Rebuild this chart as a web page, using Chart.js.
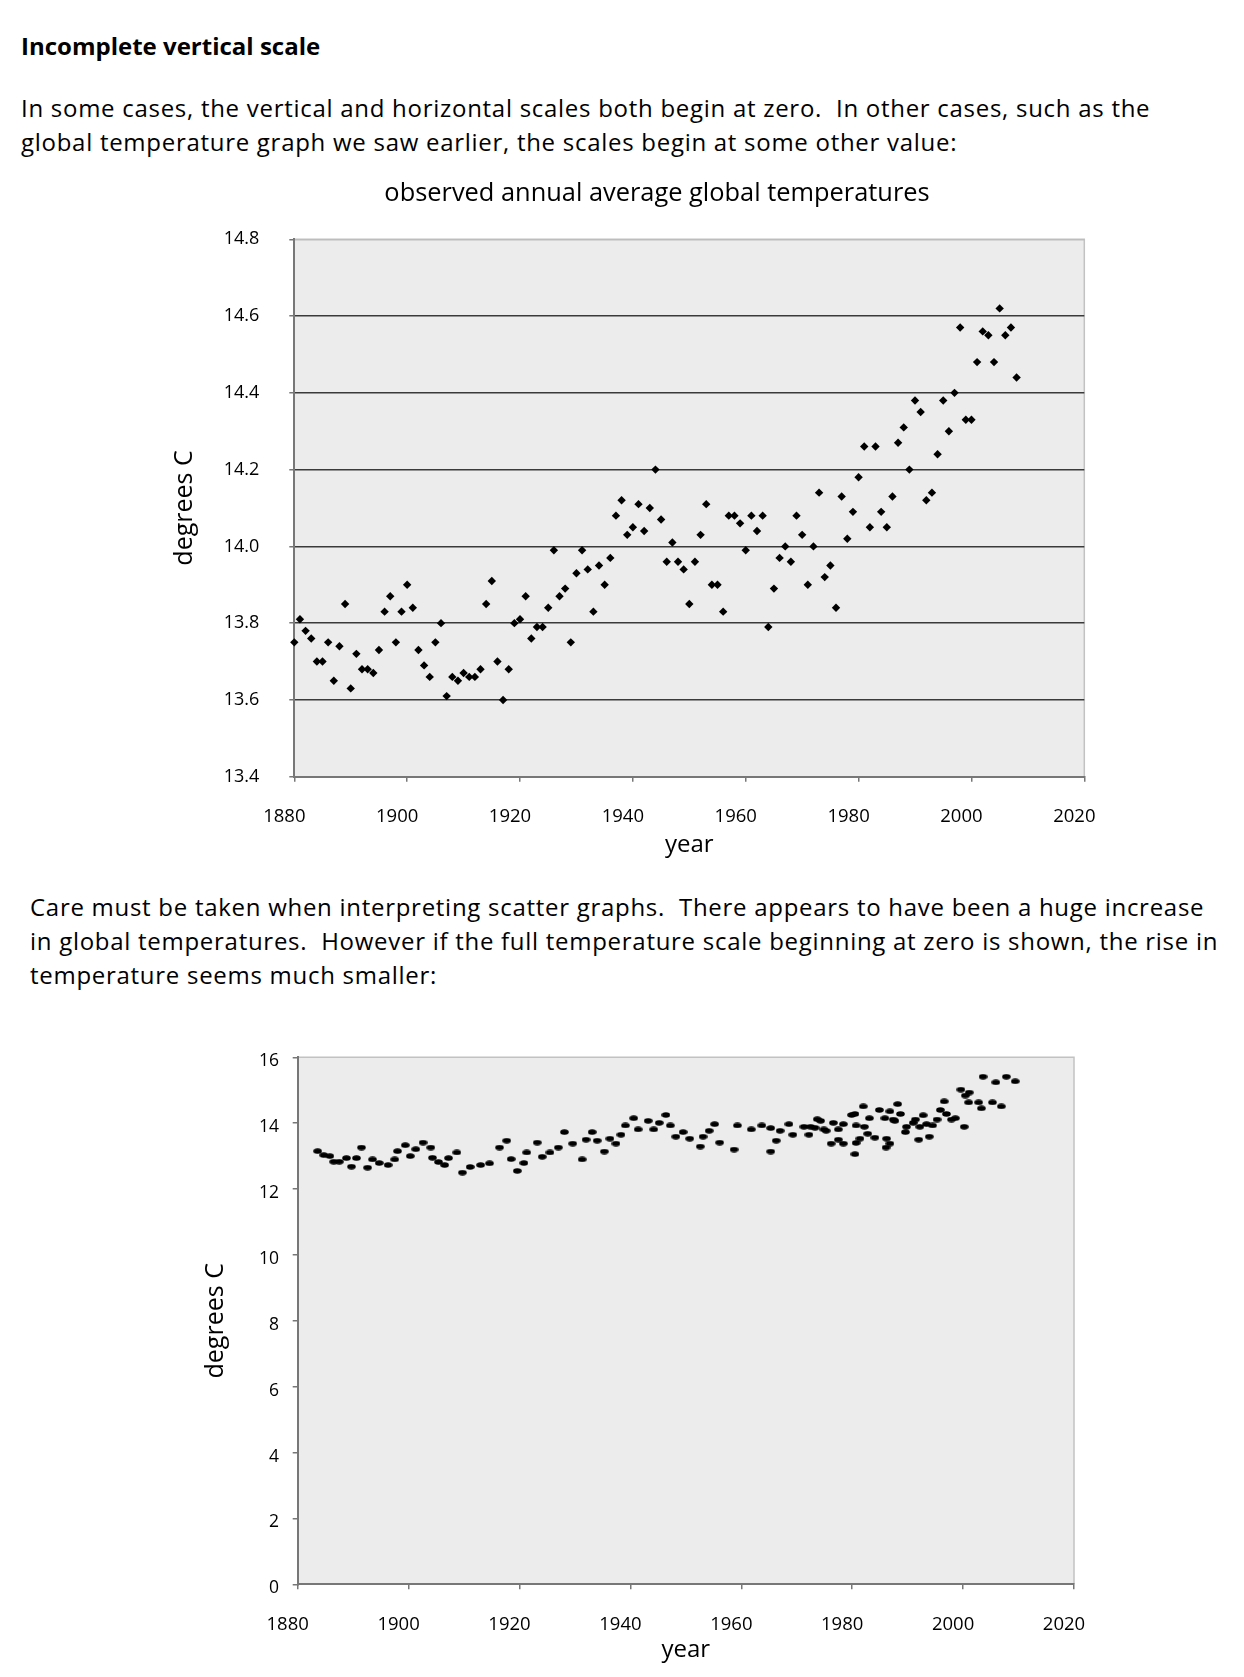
<!DOCTYPE html>
<html>
<head>
<meta charset="utf-8">
<script src="https://cdn.jsdelivr.net/npm/chart.js@4.4.0/dist/chart.umd.min.js"></script>
<style>
  body { margin: 0; width: 1244px; height: 1677px; background: #fff; position: relative; overflow: hidden;
         font-family: "Open Sans", sans-serif; color: #000; }
  .txt { position: absolute; white-space: pre; font-size: 24px; line-height: 33.5px; letter-spacing: 0.72px; margin: 0; }
  canvas { position: absolute; left: 0; }
</style>
</head>
<body>
<div class="txt" style="left:21px;top:29px;font-weight:bold;letter-spacing:0;">Incomplete vertical scale</div>
<div class="txt" style="left:21px;top:91px;">In some cases, the vertical and horizontal scales both begin at zero.  In other cases, such as the
global temperature graph we saw earlier, the scales begin at some other value:</div>

<canvas id="topChart" width="1244" height="710" style="top:150px"></canvas>

<div class="txt" style="left:30px;top:890px;line-height:34px;">Care must be taken when interpreting scatter graphs.  There appears to have been a huge increase
in global temperatures.  However if the full temperature scale beginning at zero is shown, the rise in
temperature seems much smaller:</div>

<canvas id="bottomChart" width="1244" height="665" style="top:1000px"></canvas>

<script>
// observed annual averages, upper graph
const topYears = [
  1880, 1881, 1882, 1883, 1884, 1885, 1886, 1887, 1888, 1889,
  1890, 1891, 1892, 1893, 1894, 1895, 1896, 1897, 1898, 1899,
  1900, 1901, 1902, 1903, 1904, 1905, 1906, 1907, 1908, 1909,
  1910, 1911, 1912, 1913, 1914, 1915, 1916, 1917, 1918, 1919,
  1920, 1921, 1922, 1923, 1924, 1925, 1926, 1927, 1928, 1929,
  1930, 1931, 1932, 1933, 1934, 1935, 1936, 1937, 1938, 1939,
  1940, 1941, 1942, 1943, 1944, 1945, 1946, 1947, 1948, 1949,
  1950, 1951, 1952, 1953, 1954, 1955, 1956, 1957, 1958, 1959,
  1960, 1961, 1962, 1963, 1964, 1965, 1966, 1967, 1968, 1969,
  1970, 1971, 1972, 1973, 1974, 1975, 1976, 1977, 1978, 1979,
  1980, 1981, 1982, 1983, 1984, 1985, 1986, 1987, 1988, 1989,
  1990, 1991, 1992, 1993, 1994, 1995, 1996, 1997, 1998, 1999,
  2000, 2001, 2002, 2003, 2004, 2005, 2006, 2007, 2008
];
const topTemps = [
  13.75, 13.81, 13.78, 13.76, 13.70, 13.70, 13.75, 13.65, 13.74, 13.85,
  13.63, 13.72, 13.68, 13.68, 13.67, 13.73, 13.83, 13.87, 13.75, 13.83,
  13.90, 13.84, 13.73, 13.69, 13.66, 13.75, 13.80, 13.61, 13.66, 13.65,
  13.67, 13.66, 13.66, 13.68, 13.85, 13.91, 13.70, 13.60, 13.68, 13.80,
  13.81, 13.87, 13.76, 13.79, 13.79, 13.84, 13.99, 13.87, 13.89, 13.75,
  13.93, 13.99, 13.94, 13.83, 13.95, 13.90, 13.97, 14.08, 14.12, 14.03,
  14.05, 14.11, 14.04, 14.10, 14.20, 14.07, 13.96, 14.01, 13.96, 13.94,
  13.85, 13.96, 14.03, 14.11, 13.90, 13.90, 13.83, 14.08, 14.08, 14.06,
  13.99, 14.08, 14.04, 14.08, 13.79, 13.89, 13.97, 14.00, 13.96, 14.08,
  14.03, 13.90, 14.00, 14.14, 13.92, 13.95, 13.84, 14.13, 14.02, 14.09,
  14.18, 14.26, 14.05, 14.26, 14.09, 14.05, 14.13, 14.27, 14.31, 14.20,
  14.38, 14.35, 14.12, 14.14, 14.24, 14.38, 14.30, 14.40, 14.57, 14.33,
  14.33, 14.48, 14.56, 14.55, 14.48, 14.62, 14.55, 14.57, 14.44
];

// lower graph, points as plotted on the full scale
const bottomYears = [
  1883.6, 1884.7, 1885.8, 1886.5, 1887.5, 1888.8, 1889.7, 1890.6, 1891.5, 1892.6,
  1893.5, 1894.7, 1896.3, 1897.5, 1898.0, 1899.4, 1900.3, 1901.3, 1902.6, 1904.0,
  1904.3, 1905.4, 1906.5, 1907.2, 1908.7, 1909.7, 1911.1, 1913.0, 1914.6, 1916.4,
  1917.7, 1918.5, 1919.6, 1920.8, 1921.3, 1923.2, 1924.1, 1925.5, 1927.0, 1928.1,
  1929.6, 1931.3, 1932.0, 1933.1, 1934.0, 1935.3, 1936.3, 1937.4, 1938.3, 1939.1,
  1940.6, 1941.4, 1943.2, 1944.2, 1945.2, 1946.4, 1947.2, 1948.2, 1949.5, 1950.7,
  1952.6, 1953.1, 1954.2, 1955.2, 1956.1, 1958.7, 1959.3, 1961.8, 1963.7, 1965.3,
  1965.3, 1966.3, 1967.0, 1968.6, 1969.3, 1971.3, 1972.2, 1972.5, 1973.3, 1973.7,
  1974.3, 1974.9, 1975.3, 1976.2, 1976.6, 1977.5, 1977.5, 1978.4, 1978.4, 1979.9,
  1980.5, 1980.5, 1980.7, 1980.7, 1981.4, 1982.0, 1982.2, 1982.8, 1983.1, 1984.1,
  1984.9, 1985.9, 1986.2, 1986.1, 1986.8, 1986.8, 1987.4, 1987.7, 1988.2, 1988.7,
  1989.6, 1989.8, 1991.0, 1991.4, 1992.0, 1992.2, 1992.8, 1993.4, 1993.9, 1994.5,
  1995.3, 1995.9, 1996.6, 1997.0, 1997.9, 1998.6, 1999.6, 2000.2, 2000.4, 2001.0,
  2001.1, 2002.8, 2003.3, 2003.6, 2005.3, 2005.9, 2006.9, 2007.8, 2009.4
];
const bottomTemps = [
  13.15, 13.03, 13.00, 12.83, 12.83, 12.94, 12.68, 12.94, 13.26, 12.65,
  12.90, 12.79, 12.73, 12.90, 13.15, 13.33, 13.00, 13.21, 13.41, 13.26,
  12.95, 12.82, 12.73, 12.94, 13.11, 12.50, 12.67, 12.73, 12.78, 13.26,
  13.47, 12.91, 12.55, 12.79, 13.11, 13.41, 12.98, 13.11, 13.26, 13.73,
  13.38, 12.90, 13.50, 13.73, 13.47, 13.14, 13.53, 13.38, 13.65, 13.93,
  14.15, 13.81, 14.07, 13.81, 14.01, 14.25, 13.93, 13.59, 13.73, 13.53,
  13.29, 13.59, 13.77, 13.97, 13.41, 13.20, 13.93, 13.81, 13.93, 13.85,
  13.14, 13.47, 13.77, 13.97, 13.65, 13.89, 13.65, 13.89, 13.86, 14.12,
  14.07, 13.81, 13.77, 13.38, 14.01, 13.50, 13.81, 13.38, 13.97, 14.25,
  14.28, 13.06, 13.40, 13.93, 13.53, 14.51, 13.89, 13.68, 14.15, 13.56,
  14.40, 14.15, 13.53, 13.26, 13.38, 14.36, 14.11, 14.07, 14.58, 14.28,
  13.73, 13.89, 14.01, 14.11, 13.50, 13.89, 14.24, 13.97, 13.59, 13.93,
  14.11, 14.40, 14.66, 14.28, 14.11, 14.15, 15.02, 13.89, 14.84, 14.63,
  14.93, 14.63, 14.45, 15.41, 14.63, 15.24, 14.51, 15.41, 15.27
];

Chart.defaults.font.family = '"Open Sans", sans-serif';
Chart.defaults.color = '#000';

// grey plot area with light top and right edges
const plotBg = {
  id: 'plotBg',
  beforeDraw(chart) {
    const { ctx, chartArea: a } = chart;
    ctx.save();
    ctx.fillStyle = '#ececec';
    ctx.fillRect(a.left, a.top, a.right - a.left, a.bottom - a.top);
    ctx.strokeStyle = '#c2c2c2';
    ctx.lineWidth = 1.5;
    ctx.beginPath();
    ctx.moveTo(a.left, a.top);
    ctx.lineTo(a.right, a.top);
    ctx.lineTo(a.right, a.bottom);
    ctx.stroke();
    ctx.restore();
  }
};

function yearAxis(height) {
  return {
    type: 'linear', min: 1880, max: 2020,
    ticks: { stepSize: 20, font: { size: 18.5 }, padding: 24, labelOffset: -10, callback: v => String(v) },
    grid: { drawOnChartArea: false, tickLength: 5, tickColor: '#777', lineWidth: 1.5 },
    border: { color: '#777', width: 2 },
    title: { display: true, text: 'year', font: { size: 24 }, padding: 0 },
    afterFit(s) { s.height = height; }
  };
}

new Chart(document.getElementById('topChart'), {
  type: 'scatter',
  data: {
    datasets: [{
      data: topYears.map((yr, i) => ({ x: yr, y: topTemps[i] })),
      pointStyle: 'rectRot',
      pointRadius: 4.2,
      backgroundColor: '#000',
      borderWidth: 0,
      clip: false
    }]
  },
  options: {
    responsive: false,
    animation: false,
    layout: { padding: { left: 170, right: 100, top: 0, bottom: 0 } },
    plugins: {
      legend: { display: false },
      tooltip: { enabled: false },
      title: {
        display: true,
        text: 'observed annual average global temperatures',
        font: { size: 25.4, weight: 'normal' },
        padding: { top: 28.8, bottom: 30 }
      }
    },
    scales: {
      x: yearAxis(83.3),
      y: {
        min: 13.4, max: 14.8,
        ticks: { stepSize: 0.2, font: { size: 18 }, padding: 30, callback: v => v.toFixed(1) },
        grid: {
          color: c => (c.tick && c.tick.value > 14.79) ? '#bdbdbd' : '#3a3a3a',
          lineWidth: 1.5, tickLength: 5, tickColor: '#777'
        },
        border: { color: '#777', width: 2 },
        title: { display: true, text: 'degrees C', font: { size: 25 }, padding: 0 },
        afterFit(s) { s.width = 124.3; }
      },
      y2: {
        position: 'right',
        ticks: { display: false },
        grid: { display: false },
        border: { display: false },
        afterFit(s) { s.width = 59.7; }
      }
    }
  },
  plugins: [plotBg]
});

// small flat dot used by the lower graph
const dot = document.createElement('canvas');
dot.width = 9;
dot.height = 6;
const dctx = dot.getContext('2d');
dctx.fillStyle = '#000';
dctx.beginPath();
dctx.ellipse(4.5, 3, 4.3, 2.8, 0, 0, Math.PI * 2);
dctx.fill();

new Chart(document.getElementById('bottomChart'), {
  type: 'scatter',
  data: {
    datasets: [{
      data: bottomYears.map((yr, i) => ({ x: yr, y: bottomTemps[i] })),
      pointStyle: dot,
      pointRadius: 4,
      backgroundColor: '#000',
      clip: false
    }]
  },
  options: {
    responsive: false,
    animation: false,
    layout: { padding: { left: 201, right: 170, top: 57.3, bottom: 0 } },
    plugins: { legend: { display: false }, tooltip: { enabled: false } },
    scales: {
      x: yearAxis(80.7),
      y: {
        min: 0, max: 16,
        ticks: { stepSize: 2, font: { size: 17.5 }, padding: 13.7, labelOffset: 4, callback: v => String(v) },
        grid: { drawOnChartArea: false, tickLength: 5, tickColor: '#777', lineWidth: 1.5 },
        border: { color: '#777', width: 2 },
        title: { display: true, text: 'degrees C', font: { size: 25 }, padding: 0 },
        afterFit(s) { s.width = 96.7; }
      }
    }
  },
  plugins: [plotBg]
});
</script>
</body>
</html>
